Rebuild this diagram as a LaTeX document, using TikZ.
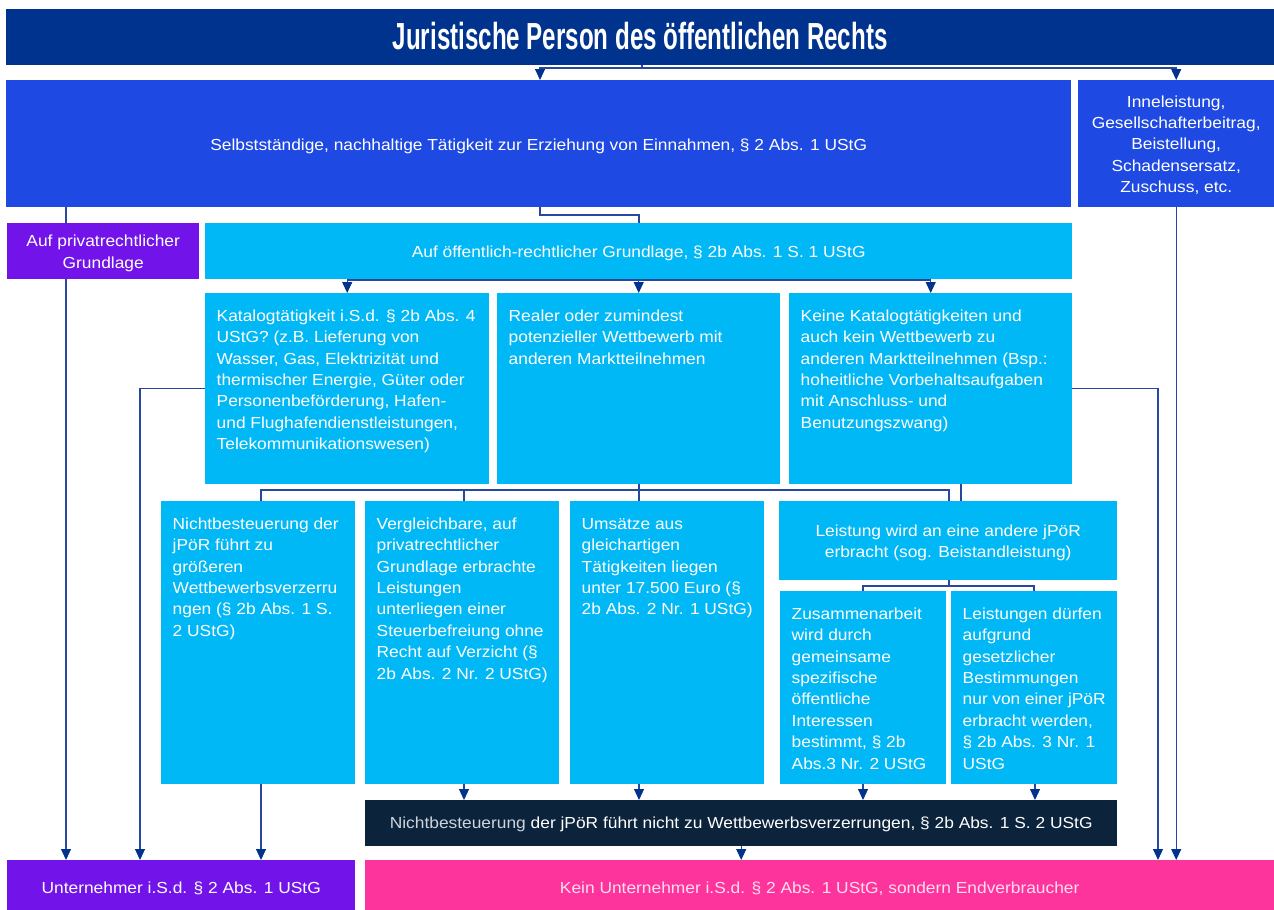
\documentclass[tikz,border=0pt]{standalone}
\usepackage{fontspec}
\setmainfont{Liberation Sans}[FakeStretch=1.085]
\newfontfamily\titlefont{Liberation Sans}
\usepackage{graphicx}
\usetikzlibrary{arrows.meta}
\definecolor{cTitle}{RGB}{0,51,141}
\definecolor{cSelb}{RGB}{30,73,226}
\definecolor{cPurp}{RGB}{114,19,234}
\definecolor{cLb}{RGB}{0,184,245}
\definecolor{cDark}{RGB}{12,35,60}
\definecolor{cPink}{RGB}{253,52,156}
\definecolor{cLine}{RGB}{40,72,160}
\definecolor{cPinkTxt}{RGB}{255,222,238}
\definecolor{cGrayTxt}{RGB}{205,212,222}
\newcommand\tlbox[3]{\begin{minipage}[c][#2][t]{#1}\raggedright\rule{0pt}{28pt}#3\end{minipage}}
\newcommand\dn[2]{\raisebox{-#1}[\height][\depth]{\begin{tabular}{@{}c@{}}#2\end{tabular}}}
\tikzset{
  basebox/.style={inner sep=0pt, anchor=north west, text=white, font=\fontsize{16}{21.4}\selectfont},
  cbox/.style={basebox, align=center},
  tbox/.style={basebox, inner xsep=11.5pt, inner ysep=0pt, fill=cLb},
  ln/.style={draw=cLine, line width=1.1pt},
  arr/.style={ln, -{Triangle[width=10pt,length=11pt,color=cTitle]}}
}
\begin{document}
\begin{tikzpicture}[x=1pt,y=-1pt]
\useasboundingbox (0,0) rectangle (1274,910);
% title
\node[cbox, fill=cTitle, minimum width=1268pt, minimum height=56pt] (title) at (6,9)
  {\raisebox{2pt}{\scalebox{0.64}[1]{\titlefont\fontsize{37.7}{40}\selectfont\bfseries Juristische Person des öffentlichen Rechts}}};
% row 1
\node[cbox, fill=cSelb, minimum width=1065pt, minimum height=127pt] (selb) at (6,80)
  {\dn{3pt}{Selbstständige, nachhaltige Tätigkeit zur Erziehung von Einnahmen, § 2 Abs. 1 UStG}};
\node[cbox, fill=cSelb, minimum width=196pt, minimum height=127pt] (inne) at (1078,80)
  {\dn{2pt}{Inneleistung,\\Gesellschafterbeitrag,\\Beistellung,\\Schadensersatz,\\Zuschuss, etc.}};
% row 2
\node[cbox, fill=cPurp, minimum width=192pt, minimum height=56pt] (priv) at (7,223)
  {\dn{2pt}{Auf privatrechtlicher\\Grundlage}};
\node[cbox, fill=cLb, minimum width=867pt, minimum height=56pt] (oeff) at (205,223)
  {\dn{2pt}{Auf öffentlich-rechtlicher Grundlage, § 2b Abs. 1 S. 1 UStG}};
% row 3
\node[tbox] (kat) at (205,293) {\tlbox{261pt}{191pt}{Katalogtätigkeit i.S.d. § 2b Abs. 4\\UStG? (z.B. Lieferung von\\Wasser, Gas, Elektrizität und\\thermischer Energie, Güter oder\\Personenbeförderung, Hafen-\\und Flughafendienstleistungen,\\Telekommunikationswesen)}};
\node[tbox] (real) at (497,293) {\tlbox{260pt}{191pt}{Realer oder zumindest\\potenzieller Wettbewerb mit\\anderen Marktteilnehmen}};
\node[tbox] (keine) at (789,293) {\tlbox{260pt}{191pt}{Keine Katalogtätigkeiten und\\auch kein Wettbewerb zu\\anderen Marktteilnehmen (Bsp.:\\hoheitliche Vorbehaltsaufgaben\\mit Anschluss- und\\Benutzungszwang)}};
% row 4
\node[tbox] (nicht) at (161,501) {\tlbox{171pt}{283pt}{Nichtbesteuerung der\\jPöR führt zu\\größeren\\Wettbewerbsverzerru\\ngen (§ 2b Abs. 1 S.\\2 UStG)}};
\node[tbox] (verg) at (365,501) {\tlbox{171pt}{283pt}{Vergleichbare, auf\\privatrechtlicher\\Grundlage erbrachte\\Leistungen\\unterliegen einer\\Steuerbefreiung ohne\\Recht auf Verzicht (§\\2b Abs. 2 Nr. 2 UStG)}};
\node[tbox] (ums) at (570,501) {\tlbox{171pt}{283pt}{Umsätze aus\\gleichartigen\\Tätigkeiten liegen\\unter 17.500 Euro (§\\2b Abs. 2 Nr. 1 UStG)}};
\node[cbox, fill=cLb, minimum width=338pt, minimum height=79pt] (leist) at (779,501)
  {\dn{2pt}{Leistung wird an eine andere jPöR\\erbracht (sog. Beistandleistung)}};
\node[tbox] (zus) at (780,591) {\tlbox{143pt}{193pt}{Zusammenarbeit\\wird durch\\gemeinsame\\spezifische\\öffentliche\\Interessen\\bestimmt, § 2b\\Abs.3 Nr. 2 UStG}};
\node[tbox] (ld) at (951,591) {\tlbox{143pt}{193pt}{Leistungen dürfen\\aufgrund\\gesetzlicher\\Bestimmungen\\nur von einer jPöR\\erbracht werden,\\§ 2b Abs. 3 Nr. 1\\UStG}};
% row 5
\node[cbox, fill=cDark, minimum width=752pt, minimum height=46pt] (dark) at (365,800)
  {\dn{1pt}{\textcolor{cGrayTxt}{Nichtbesteuerung} der jPöR führt nicht zu Wettbewerbsverzerrungen, § 2b Abs. 1 S. 2 UStG}};
% row 6
\node[cbox, fill=cPurp, minimum width=348pt, minimum height=50pt] (unt) at (7,860)
  {\dn{4.5pt}{Unternehmer i.S.d. § 2 Abs. 1 UStG}};
\node[cbox, fill=cPink, minimum width=909pt, minimum height=50pt, text=cPinkTxt] (kein) at (365,860)
  {\dn{4.5pt}{Kein Unternehmer i.S.d. § 2 Abs. 1 UStG, sondern Endverbraucher}};
% connectors
\coordinate (tb) at (642,68);
\draw[ln] (title.south -| tb) -- (tb);
\draw[arr] (tb) -| (selb.north -| 540,0);
\draw[arr] (tb) -| (inne.north);
\draw[ln] (selb.south -| 540,0) |- (639,215) -- (oeff.north -| 639,0);
\draw[ln] (selb.south -| 66,0) -- (priv.north -| 66,0);
\draw[arr] (priv.south -| 66,0) -- (unt.north -| 66,0);
\draw[arr] (inne.south) -- (kein.north -| inne.south);
\draw[ln] (kat.north |- 0,280) -- (keine.north |- 0,280);
\draw[arr] (kat.north |- 0,280) -- (kat.north);
\draw[arr] (real.north |- 0,280) -- (real.north);
\draw[arr] (keine.north |- 0,280) -- (keine.north);
\draw[ln] (real.south -| 639,0) -- (ums.north -| 639,0);
\draw[ln] (nicht.north -| 261,0) |- (949,490) -- (leist.north -| 949,0);
\draw[ln] (verg.north -| 464,0) -- (464,490);
\draw[ln] (keine.south -| 961,0) -- (leist.north -| 961,0);
\draw[ln] (leist.south -| 949,0) -- (949,586);
\draw[ln] (zus.north -| 863,0) |- (1034,586) -- (ld.north -| 1034,0);
\draw[arr] (kat.west) -| (unt.north -| 140,0);
\draw[arr] (keine.east) -| (kein.north -| 1158,0);
\draw[arr] (nicht.south -| 261,0) -- (unt.north -| 261,0);
\draw[arr] (verg.south -| 464,0) -- (dark.north -| 464,0);
\draw[arr] (ums.south -| 639,0) -- (dark.north -| 639,0);
\draw[arr] (zus.south -| 863,0) -- (dark.north -| 863,0);
\draw[arr] (ld.south -| 1035,0) -- (dark.north -| 1035,0);
\draw[arr] (dark.south) -- (kein.north -| dark.south);
\end{tikzpicture}
\end{document}
